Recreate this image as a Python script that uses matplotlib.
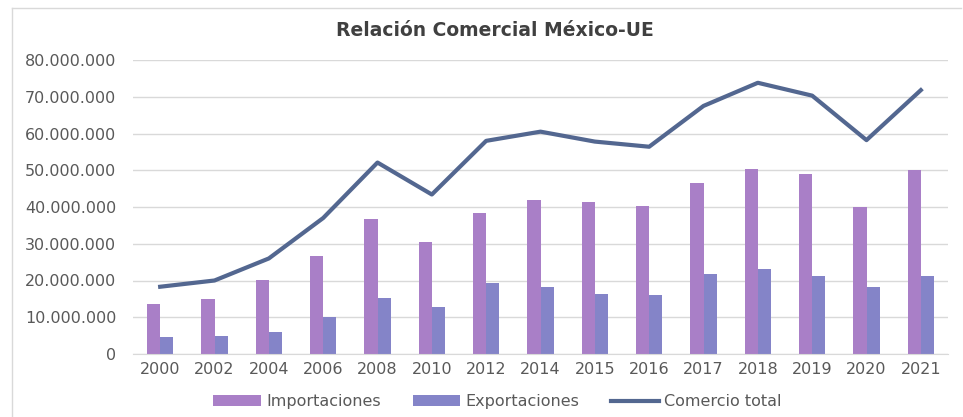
import matplotlib.pyplot as plt
from matplotlib.lines import Line2D
import numpy as np

years = ["2000", "2002", "2004", "2006", "2008", "2010", "2012", "2014",
         "2015", "2016", "2017", "2018", "2019", "2020", "2021"]
importaciones = [13.5, 15.0, 20.1, 26.7, 36.6, 30.5, 38.4, 42.0,
                 41.3, 40.2, 46.4, 50.4, 48.9, 40.1, 50.2]
exportaciones = [4.7, 4.8, 5.9, 10.0, 15.3, 12.7, 19.4, 18.3,
                 16.2, 16.1, 21.7, 23.2, 21.3, 18.1, 21.3]
comercio_total = [18.3, 20.0, 26.0, 37.0, 52.1, 43.4, 58.0, 60.5,
                  57.8, 56.4, 67.5, 73.8, 70.3, 58.2, 71.8]

plt.rcParams["font.family"] = ["DejaVu Sans"]
text_color = "#595959"
c_imp = "#A97FC7"
c_exp = "#8484C8"
c_tot = "#536790"

fig = plt.figure(figsize=(9.63, 4.17), dpi=100)
ax = fig.add_axes([133 / 963, 1 - 354 / 417, 815 / 963, 294 / 417])

x = np.arange(len(years))
w = 0.24
scale = 1e6
b1 = ax.bar(x - w / 2, np.array(importaciones) * scale, w, color=c_imp, label="Importaciones", zorder=2)
b2 = ax.bar(x + w / 2, np.array(exportaciones) * scale, w, color=c_exp, label="Exportaciones", zorder=2)
l1, = ax.plot(x, np.array(comercio_total) * scale, color=c_tot, linewidth=3, label="Comercio total", zorder=3)

ax.set_xlim(-0.5, len(years) - 0.5)
ax.set_ylim(0, 80e6)
ax.set_yticks(np.arange(0, 80e6 + 1, 10e6))
ax.set_yticklabels(["0"] + [f"{int(v):,}".replace(",", ".") for v in np.arange(10e6, 80e6 + 1, 10e6)])
ax.set_xticks(x)
ax.set_xticklabels(years)
ax.tick_params(axis="both", length=0, colors=text_color, labelsize=11.5)
ax.tick_params(axis="y", pad=12)
ax.tick_params(axis="x", pad=6)
ax.grid(axis="y", color="#D9D9D9", linewidth=1, zorder=0)
for s in ["top", "right", "left"]:
    ax.spines[s].set_visible(False)
ax.spines["bottom"].set_color("#D9D9D9")

fig.text(495 / 963, 1 - 30 / 417, "Relación Comercial México-UE", ha="center", va="center",
         fontsize=13.5, fontweight="bold", color="#404040")

ax.legend([b1, b2, l1], ["Importaciones", "Exportaciones", "Comercio total"],
          loc="center", bbox_to_anchor=(0.447, -0.163), ncol=3, frameon=False,
          fontsize=11.5, labelcolor=text_color, handlelength=3.0, handletextpad=0.3,
          columnspacing=2.0)

# chart frame
fig.add_artist(Line2D([12 / 963, 12 / 963], [0, 1 - 8 / 417], color="#D9D9D9", linewidth=1))
fig.add_artist(Line2D([12 / 963, 0.998], [1 - 8 / 417, 1 - 8 / 417], color="#D9D9D9", linewidth=1))

fig.savefig("out.png", dpi=100)
